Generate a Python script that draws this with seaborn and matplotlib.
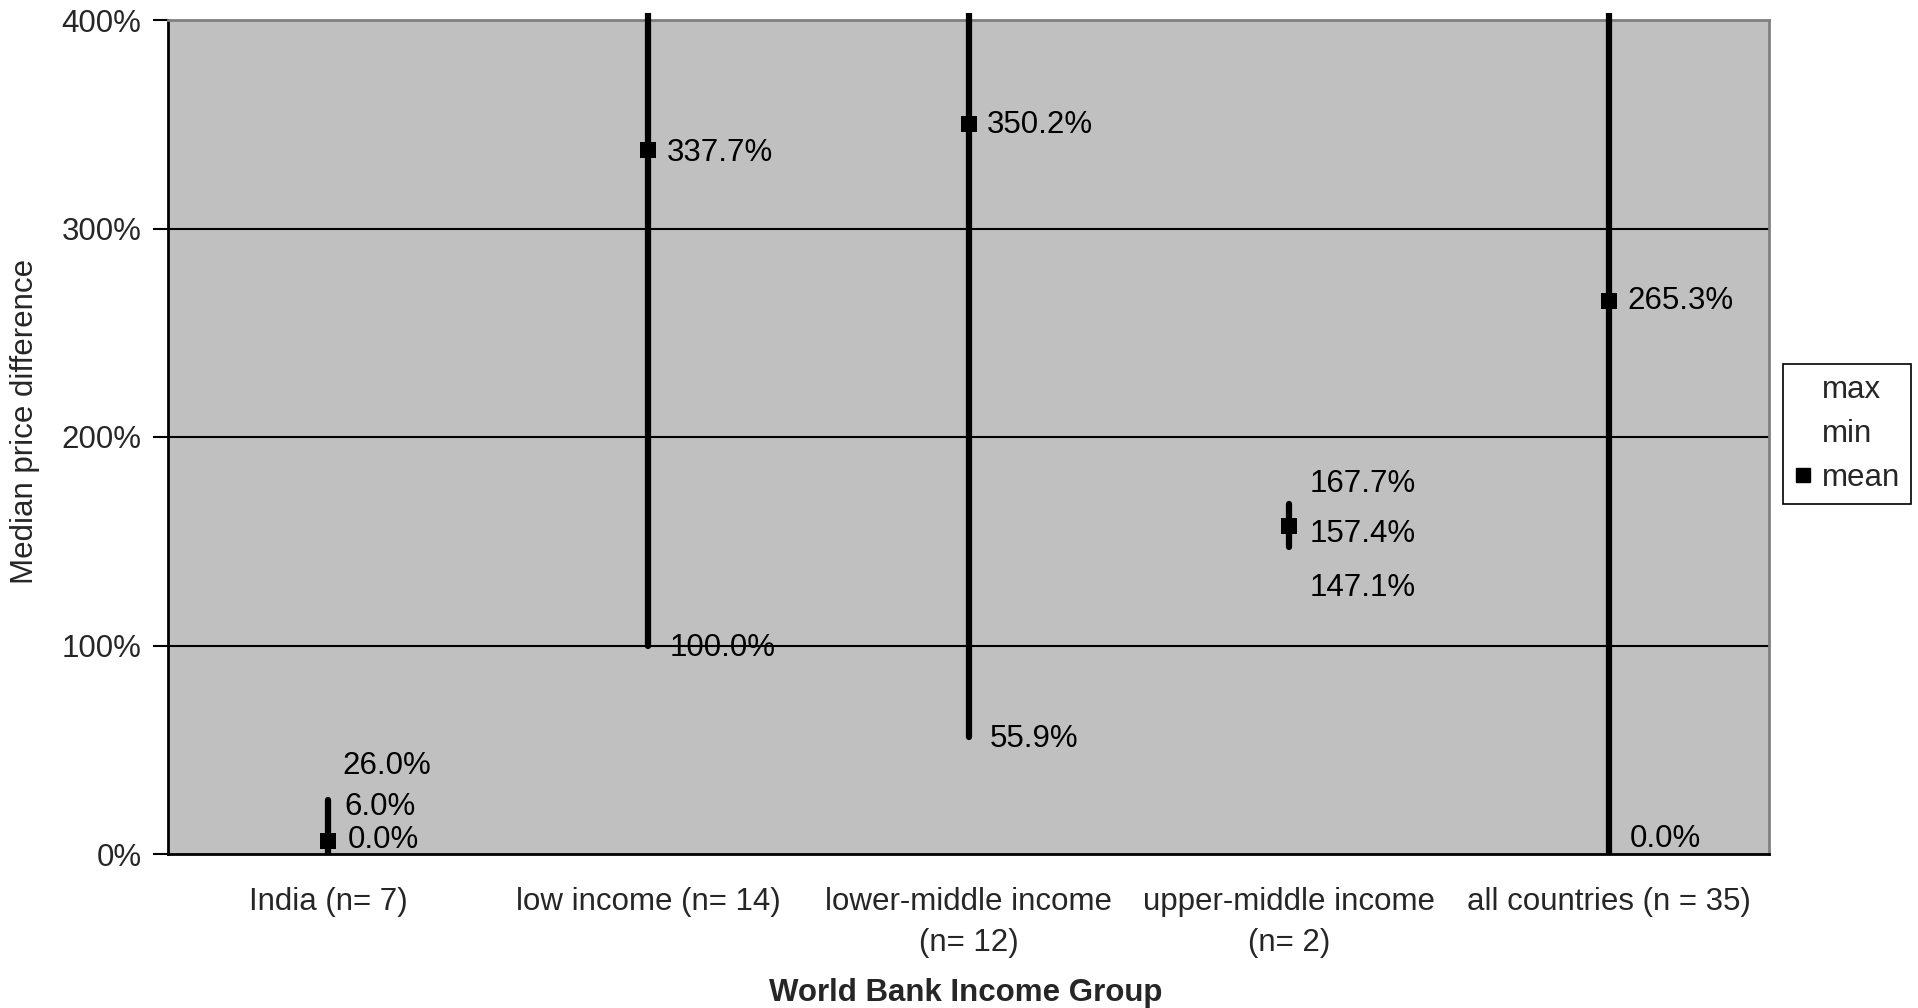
import numpy as np
import pandas as pd
import matplotlib
matplotlib.use("Agg")
import matplotlib.pyplot as plt
from matplotlib.lines import Line2D
from matplotlib.patches import Rectangle
import seaborn as sns

# Median price difference by World Bank income group (percent)
groups = ["India (n= 7)", "low income (n= 14)", "lower-middle income\n(n= 12)",
          "upper-middle income\n(n= 2)", "all countries (n = 35)"]
max_vals = [26.0, 520.0, 520.0, 167.7, 520.0]   # values above 400% run off the top
mean_vals = [6.0, 337.7, 350.2, 157.4, 265.3]
min_vals = [0.0, 100.0, 55.9, 147.1, 0.0]
max_shown = [True, False, False, True, False]

df = pd.DataFrame({"group": groups, "max": max_vals, "mean": mean_vals, "min": min_vals})

sns.set_theme(style="white")
plt.rcParams["font.family"] = ["Liberation Sans", "DejaVu Sans"]
FS = 22.5

fig = plt.figure(figsize=(19.18, 10.08), dpi=100)
ax = fig.add_axes([168 / 1918, 1 - 854 / 1008, (1769 - 168) / 1918, (854 - 20) / 1008])
ax.set_facecolor("#C0C0C0")

x = np.arange(len(groups))

# horizontal gridlines
for yv in [100, 200, 300]:
    ax.axhline(yv, color="black", lw=1.5, zorder=1)

# high-low lines
lines = ax.vlines(x, df["min"], df["max"], color="black", lw=4.5, zorder=3,
                  capstyle="round")
lines.set_clip_path(Rectangle((0, 0), 1, 1 + 7 / 834, transform=ax.transAxes))

# mean markers
sns.scatterplot(data=df, x="group", y="mean", marker="s", s=120, color="black",
                edgecolor="black", linewidth=0, ax=ax, zorder=4, legend=False)

# value labels (offsets in points keep crowded labels apart)
lab_off = {
    0: {"max": (10, 24), "mean": (12, 25), "min": (14, 10)},
    1: {"mean": (13, -2), "min": (15, -2)},
    2: {"mean": (13, -1), "min": (15, -1)},
    3: {"max": (15, 15), "mean": (15, -6), "min": (15, -29)},
    4: {"mean": (13, 0), "min": (15, 11)},
}
for i in range(len(groups)):
    for key, arr in (("max", max_vals), ("mean", mean_vals), ("min", min_vals)):
        if key == "max" and not max_shown[i]:
            continue
        dx, dy = lab_off[i][key]
        ax.annotate(f"{arr[i]:.1f}%", (x[i], arr[i]), xytext=(dx, dy),
                    textcoords="offset points", ha="left", va="center",
                    fontsize=FS, color="black", zorder=5)

ax.set_xlim(-0.5, len(groups) - 0.5)
ax.set_ylim(0, 400)
ax.set_yticks([0, 100, 200, 300, 400])
ax.set_yticklabels(["0%", "100%", "200%", "300%", "400%"], fontsize=FS)
ax.set_xticks(x)
ax.set_xticklabels(groups, fontsize=FS, linespacing=1.45)
ax.set_xticks(np.arange(-0.5, len(groups)), minor=True)
ax.tick_params(axis="x", which="major", length=0, pad=24)
ax.tick_params(axis="x", which="minor", direction="inout", length=20, width=1.5,
               color="black")
ax.tick_params(axis="y", which="major", direction="out", length=11, width=1.5,
               color="black", pad=8, left=True)

for side in ("top", "right"):
    ax.spines[side].set_color("#808080")
    ax.spines[side].set_linewidth(2)
for side in ("left", "bottom"):
    ax.spines[side].set_color("black")
    ax.spines[side].set_linewidth(2)

ax.set_xlabel("")
ax.set_ylabel("")
fig.text(966 / 1918, 1 - 993 / 1008, "World Bank Income Group", ha="center",
         va="center", fontsize=FS, fontweight="bold")
fig.text(25 / 1918, 1 - 421 / 1008, "Median price difference", ha="center",
         va="center", rotation=90, fontsize=FS)

handles = [Line2D([], [], linestyle="none", marker=None),
           Line2D([], [], linestyle="none", marker=None),
           Line2D([], [], linestyle="none", marker="s", color="black", markersize=10)]
leg = fig.legend(handles, ["max", "min", "mean"], loc="upper left",
                 bbox_to_anchor=(1783 / 1918, 1 - 364 / 1008), fontsize=FS,
                 frameon=True, fancybox=False, framealpha=1, edgecolor="black",
                 handlelength=0.6, handletextpad=0.3, labelspacing=0.45,
                 borderpad=0.35, borderaxespad=0)
leg.get_frame().set_linewidth(1.2)

fig.savefig("out.png", dpi=100, facecolor="white")
